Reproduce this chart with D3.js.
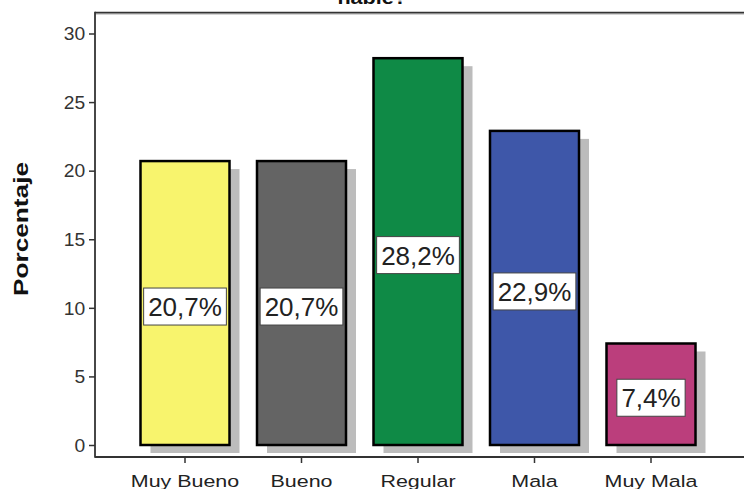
<!DOCTYPE html>
<html>
<head>
<meta charset="utf-8">
<script src="https://cdn.jsdelivr.net/npm/d3@7"></script>
<style>
  html, body { margin: 0; padding: 0; background: #fff; }
  svg { display: block; font-family: "Liberation Sans", Arial, sans-serif; }
</style>
</head>
<body>
<svg id="chart" width="744" height="489"></svg>
<script>
// Response categories and their share of answers (percent)
const categories = ["Muy Bueno", "Bueno", "Regular", "Mala", "Muy Mala"];
const percentages = [20.7, 20.7, 28.2, 22.9, 7.4];
const barColors = ["#f8f46d", "#646464", "#0f8a46", "#3e57a9", "#bb3e7c"];
const yTickValues = [0, 5, 10, 15, 20, 25, 30];
const titleText = "hable?";
const yAxisTitle = "Porcentaje";

const svg = d3.select("#chart");
const W = 744, H = 489;

// Plot frame
const frameLeft = 95, frameTop = 12.5, frameBottom = 457;

const y = d3.scaleLinear().domain([0, 30]).range([445, 33.5]);
const x = d3.scaleBand()
  .domain(categories)
  .range([126.75, 709.25])
  .paddingInner(0.236)
  .paddingOuter(0.118);

const fmt = v => v.toFixed(1).replace(".", ",") + "%";

// Title (top line clipped by the page edge)
svg.append("text")
  .attr("transform", "translate(407,4) scale(1.2,1)")
  .attr("text-anchor", "end")
  .attr("font-size", 18)
  .attr("font-weight", "bold")
  .attr("fill", "#111")
  .text(titleText);

// Frame: top edge
svg.append("line")
  .attr("x1", frameLeft).attr("x2", W)
  .attr("y1", frameTop + 1.2).attr("y2", frameTop + 1.2)
  .attr("stroke", "#aaa").attr("stroke-width", 1.5);
svg.append("line")
  .attr("x1", frameLeft).attr("x2", W)
  .attr("y1", frameTop).attr("y2", frameTop)
  .attr("stroke", "#333").attr("stroke-width", 1.6);

// Bar shadows
const g = svg.append("g");
g.selectAll("rect.shadow")
  .data(percentages)
  .join("rect")
  .attr("class", "shadow")
  .attr("x", (d, i) => x(categories[i]) + 10)
  .attr("y", d => y(d) + 8)
  .attr("width", x.bandwidth())
  .attr("height", d => y(0) - y(d))
  .attr("fill", "#bcbcbc");

// Bars
g.selectAll("rect.bar")
  .data(percentages)
  .join("rect")
  .attr("class", "bar")
  .attr("x", (d, i) => x(categories[i]))
  .attr("y", d => y(d))
  .attr("width", x.bandwidth())
  .attr("height", d => y(0) - y(d))
  .attr("fill", (d, i) => barColors[i])
  .attr("stroke", "#000")
  .attr("stroke-width", 2.5);

// Value labels in white boxes at mid-height
const labels = g.selectAll("g.lab")
  .data(percentages)
  .join("g")
  .attr("class", "lab")
  .attr("transform", (d, i) => `translate(${x(categories[i]) + x.bandwidth() / 2},${(y(d) + y(0)) / 2 + 3.5})`);

labels.append("rect").attr("fill", "#fff").attr("stroke", "#444").attr("stroke-width", 1);
labels.append("text")
  .attr("text-anchor", "middle")
  .attr("y", 9.5)
  .attr("font-size", 26)
  .attr("fill", "#222")
  .text(d => fmt(d));
labels.each(function () {
  const t = d3.select(this).select("text").node();
  const w = t.getComputedTextLength() + 9;
  d3.select(this).select("rect")
    .attr("x", -w / 2).attr("y", -18.5)
    .attr("width", w).attr("height", 37);
});

// Y axis
const yAxis = d3.axisLeft(y).tickValues(yTickValues).tickSize(6).tickPadding(3);
const yg = svg.append("g").attr("transform", `translate(${frameLeft},0)`).call(yAxis);
yg.select(".domain").remove();
yg.selectAll(".tick line").attr("stroke", "#333").attr("stroke-width", 1.5);
yg.selectAll(".tick text")
  .attr("font-size", 17.5)
  .attr("fill", "#333")
  .attr("font-family", "Liberation Sans, Arial, sans-serif")
  .attr("dy", "0.36em")
  .attr("transform", "translate(-8,0) scale(1.1,1) translate(7.3,0)");
svg.append("line")
  .attr("x1", frameLeft).attr("x2", frameLeft)
  .attr("y1", frameTop - 0.8).attr("y2", frameBottom + 0.8)
  .attr("stroke", "#333").attr("stroke-width", 1.8);

// X axis
const xAxis = d3.axisBottom(x).tickSize(6).tickPadding(4);
const xg = svg.append("g").attr("transform", `translate(0,${frameBottom})`).call(xAxis);
xg.select(".domain").remove();
xg.selectAll(".tick line").attr("stroke", "#333").attr("stroke-width", 1.5);
xg.selectAll(".tick text")
  .attr("font-size", 16.5)
  .attr("fill", "#222")
  .attr("font-family", "Liberation Sans, Arial, sans-serif")
  .attr("dy", null)
  .attr("y", 30)
  .attr("transform", "scale(1.3,1)");
svg.append("line")
  .attr("x1", frameLeft).attr("x2", W)
  .attr("y1", frameBottom).attr("y2", frameBottom)
  .attr("stroke", "#333").attr("stroke-width", 1.8);

// Y axis title
svg.append("text")
  .attr("transform", "translate(28,229) rotate(-90) scale(1.25,1)")
  .attr("text-anchor", "middle")
  .attr("font-size", 21)
  .attr("font-weight", "bold")
  .attr("fill", "#111")
  .text(yAxisTitle);
</script>
</body>
</html>
